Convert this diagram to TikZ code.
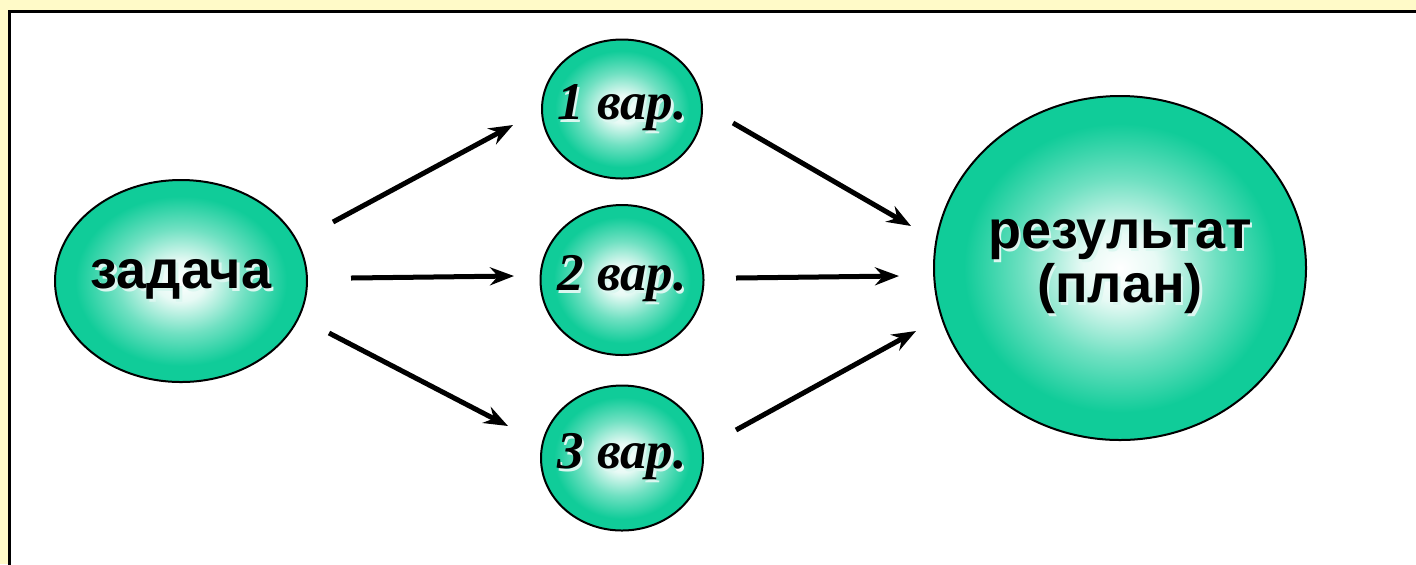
\documentclass[tikz,border=0pt]{standalone}
\usepackage{fontspec}
\setmainfont{Liberation Sans}
\newfontfamily\varfont{Liberation Serif}[BoldItalicFont={* Bold Italic}]
\usetikzlibrary{shapes.geometric,arrows.meta}
\definecolor{bgyellow}{RGB}{255,250,200}
\definecolor{tealfill}{RGB}{16,204,153}
\pgfdeclareradialshading{glow}{\pgfpoint{0bp}{0bp}}{%
  color(0bp)=(white); color(5bp)=(white!90!tealfill); color(13bp)=(white!40!tealfill);
  color(21bp)=(tealfill); color(50bp)=(tealfill)}
\newcommand\shadowtxt[1]{\makebox[0pt]{\rlap{\kern1.2pt\raisebox{-1.2pt}{\color{white!85!tealfill}#1}}#1}}
\tikzset{
  bubble/.style={ellipse, draw=black, line width=1pt, shading=glow, inner sep=0pt},
  sanslabel/.style={font=\bfseries\fontsize{27}{28}\selectfont},
  varlabel/.style={font=\varfont\bfseries\itshape\fontsize{26.5}{27}\selectfont},
  flow/.style={line width=2.5pt, -{Stealth[length=12pt,width=9pt,inset=4pt]}},
}
\begin{document}
\begin{tikzpicture}[x=0.5pt,y=-0.5pt]
\useasboundingbox (0,0) rectangle (1416,564);
\fill[bgyellow] (0,0) rectangle (1416,564);
\filldraw[fill=white, draw=black, line width=1.5pt] (9.5,11.5) rectangle (1430,580);

\node[bubble, minimum width=126pt, minimum height=101pt, sanslabel] (task) at (181,281) {\shadowtxt{задача}};
\node[bubble, minimum width=80pt, minimum height=69.5pt, varlabel] (v1) at (622,109) {\shadowtxt{1 вар.}};
\node[bubble, minimum width=81.5pt, minimum height=75pt, varlabel] (v2) at (622,280) {\shadowtxt{2 вар.}};
\node[bubble, minimum width=81pt, minimum height=72.5pt, varlabel] (v3) at (622,458) {\shadowtxt{3 вар.}};
\node[bubble, minimum width=186pt, minimum height=172pt, sanslabel, align=center] (res) at (1120,268) {\shadowtxt{результат}\\[-1pt]\shadowtxt{(план)}};

\coordinate (a1s) at (333,222); \coordinate (a1e) at (513,125);
\coordinate (a2s) at (351,278); \coordinate (a2e) at (514,276);
\coordinate (a3s) at (329,333); \coordinate (a3e) at (508,426);
\coordinate (b1s) at (733,123); \coordinate (b1e) at (911,226);
\coordinate (b2s) at (736,278); \coordinate (b2e) at (899,276);
\coordinate (b3s) at (736,430); \coordinate (b3e) at (916,331);

\draw[flow] (a1s) -- (a1e);
\draw[flow] (a2s) -- (a2e);
\draw[flow] (a3s) -- (a3e);
\draw[flow] (b1s) -- (b1e);
\draw[flow] (b2s) -- (b2e);
\draw[flow] (b3s) -- (b3e);
\end{tikzpicture}
\end{document}
